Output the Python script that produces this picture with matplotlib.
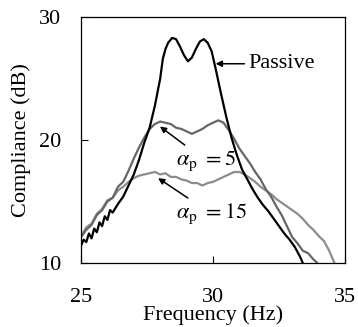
import matplotlib
matplotlib.use("Agg")
import matplotlib.pyplot as plt

plt.rcParams['font.family'] = ['Liberation Serif', 'DejaVu Serif']
plt.rcParams['mathtext.fontset'] = 'stix'

# Passive
freq_passive = [25.0, 25.1, 25.2, 25.3, 25.4, 25.5, 25.6, 25.7, 25.8, 25.9, 26.0, 26.1, 26.2,
                26.4, 26.6, 26.8, 27.0, 27.2, 27.4, 27.6, 27.8, 28.0, 28.1, 28.2, 28.3,
                28.45, 28.6, 28.75, 28.9, 29.05, 29.2, 29.35, 29.5, 29.65, 29.8, 29.95,
                30.1, 30.3, 30.5, 30.7, 30.9, 31.1, 31.3, 31.5, 31.7, 31.9, 32.1, 32.3,
                32.5, 32.7, 32.9, 33.1, 33.3, 33.4]
db_passive = [11.4, 11.9, 11.7, 12.4, 12.0, 12.8, 12.5, 13.3, 13.0, 13.8, 13.5, 14.3, 14.1,
              14.8, 15.4, 16.3, 17.2, 18.4, 19.8, 21.0, 22.8, 25.0, 26.6, 27.4, 27.9,
              28.3, 28.2, 27.6, 26.9, 26.4, 26.7, 27.4, 28.0, 28.2, 27.9, 27.2,
              25.8, 23.8, 21.9, 20.2, 18.8, 17.6, 16.8, 16.0, 15.3, 14.7, 14.2, 13.6,
              13.0, 12.4, 11.9, 11.3, 10.5, 10.0]

# alpha_p = 5
freq_a5 = [25.0, 25.2, 25.4, 25.6, 25.8, 26.0, 26.2, 26.4, 26.6, 26.8, 27.0, 27.2, 27.4,
           27.6, 27.8, 28.0, 28.2, 28.4, 28.6, 28.8, 29.0, 29.2, 29.4, 29.6, 29.8, 30.0,
           30.2, 30.4, 30.6, 30.8, 31.0, 31.2, 31.4, 31.6, 31.8, 32.0, 32.2, 32.4, 32.6,
           32.8, 33.0, 33.2, 33.4, 33.6, 33.8, 33.95]
db_a5 = [12.1, 12.7, 13.1, 13.9, 14.3, 15.0, 15.3, 16.2, 16.6, 17.5, 18.5, 19.4, 20.2,
         20.9, 21.3, 21.5, 21.4, 21.3, 21.0, 20.9, 20.7, 20.5, 20.7, 20.9, 21.2, 21.4,
         21.6, 21.4, 20.8, 20.1, 19.3, 18.7, 18.1, 17.4, 16.8, 16.0, 15.4, 14.6, 13.9,
         13.0, 12.1, 11.6, 11.0, 10.8, 10.3, 10.0]

# alpha_p = 15
freq_a15 = [25.0, 25.2, 25.4, 25.6, 25.8, 26.0, 26.2, 26.4, 26.6, 26.8, 27.0, 27.2, 27.4,
            27.6, 27.8, 28.0, 28.2, 28.4, 28.6, 28.8, 29.0, 29.2, 29.4, 29.6, 29.8, 30.0,
            30.2, 30.4, 30.6, 30.8, 31.0, 31.2, 31.4, 31.6, 31.8, 32.0, 32.2, 32.4, 32.6,
            32.8, 33.0, 33.2, 33.4, 33.6, 33.8, 34.0, 34.2, 34.4, 34.6]
db_a15 = [12.2, 12.9, 13.2, 14.0, 14.4, 15.1, 15.3, 15.9, 16.2, 16.6, 16.9, 17.1, 17.2,
          17.3, 17.4, 17.2, 17.3, 17.0, 17.0, 16.8, 16.7, 16.5, 16.5, 16.3, 16.5, 16.6,
          16.8, 17.0, 17.2, 17.4, 17.4, 17.2, 16.9, 16.6, 16.2, 15.9, 15.6, 15.2, 14.9,
          14.6, 14.3, 14.0, 13.6, 13.1, 12.7, 12.2, 11.8, 11.0, 10.0]

fig = plt.figure(figsize=(3.58, 3.27), dpi=100)
ax = fig.add_axes([81/358, 1-263/327, (345-81)/358, (263-17)/327])

ax.plot(freq_a15, db_a15, color='#8c8c8c', lw=1.6)
ax.plot(freq_a5, db_a5, color='#666666', lw=1.6)
ax.plot(freq_passive, db_passive, color='black', lw=1.6)

ax.set_xlim(25, 35)
ax.set_ylim(10, 30)
ax.set_xticks([25, 30, 35])
ax.set_yticks([10, 20, 30])
ax.tick_params(axis='x', direction='in', length=5, pad=18, labelsize=16)
ax.tick_params(axis='y', direction='in', length=5, pad=14, labelsize=16)
for s in ax.spines.values():
    s.set_linewidth(0.9)

ax.set_xlabel('Frequency (Hz)', fontsize=16, labelpad=-1)
ax.set_ylabel('Compliance (dB)', fontsize=16, labelpad=6)

arrow = dict(arrowstyle='-|>', color='black', lw=1.1, mutation_scale=9, shrinkA=1, shrinkB=0)
ax.annotate('Passive', xy=(30.1, 26.2), xytext=(31.35, 26.2), fontsize=16,
            ha='left', va='center', arrowprops=arrow)
ax.annotate(r'$\alpha_{\rm p}\ = 5$', xy=(27.99, 21.1), xytext=(28.6, 18.3), fontsize=16,
            ha='left', va='center', arrowprops=arrow)
ax.annotate(r'$\alpha_{\rm p}\ = 15$', xy=(27.92, 16.9), xytext=(28.6, 14.0), fontsize=16,
            ha='left', va='center', arrowprops=arrow)

fig.savefig('out.png', dpi=100)
